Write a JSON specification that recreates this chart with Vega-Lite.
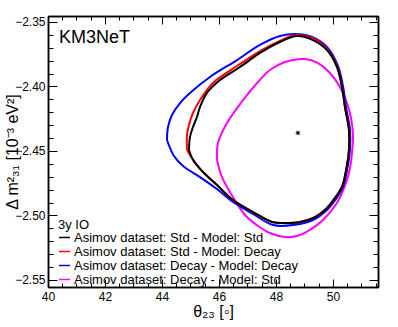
{
  "$schema": "https://vega.github.io/schema/vega-lite/v6.json",
  "width": 330,
  "height": 271,
  "autosize": {"type": "none"},
  "padding": {"left": 48, "top": 16, "right": 20, "bottom": 40},
  "background": "white",
  "config": {
    "font": "Liberation Sans",
    "view": {"stroke": null},
    "axis": {"grid": false, "domainColor": "black", "domainWidth": 1.5, "tickColor": "black", "tickWidth": 1, "labelColor": "black", "titleColor": "black", "labelFont": "Liberation Sans", "titleFont": "Liberation Sans", "labelFontSize": 12, "titleFontSize": 16, "titleFontWeight": "normal", "labelOverlap": false, "labelBound": false, "labelFlush": false}
  },
  "datasets": {
    "contourdata": [
      {"series": "Asimov dataset: Decay - Model: Std", "order": 1, "theta": 45.930, "dm": -2.4570},
      {"series": "Asimov dataset: Decay - Model: Std", "order": 2, "theta": 45.965, "dm": -2.4438},
      {"series": "Asimov dataset: Decay - Model: Std", "order": 3, "theta": 46.281, "dm": -2.4283},
      {"series": "Asimov dataset: Decay - Model: Std", "order": 4, "theta": 46.842, "dm": -2.4105},
      {"series": "Asimov dataset: Decay - Model: Std", "order": 5, "theta": 47.368, "dm": -2.3965},
      {"series": "Asimov dataset: Decay - Model: Std", "order": 6, "theta": 47.789, "dm": -2.3872},
      {"series": "Asimov dataset: Decay - Model: Std", "order": 7, "theta": 48.316, "dm": -2.3810},
      {"series": "Asimov dataset: Decay - Model: Std", "order": 8, "theta": 49.018, "dm": -2.3787},
      {"series": "Asimov dataset: Decay - Model: Std", "order": 9, "theta": 49.474, "dm": -2.3818},
      {"series": "Asimov dataset: Decay - Model: Std", "order": 10, "theta": 49.895, "dm": -2.3895},
      {"series": "Asimov dataset: Decay - Model: Std", "order": 11, "theta": 50.246, "dm": -2.4004},
      {"series": "Asimov dataset: Decay - Model: Std", "order": 12, "theta": 50.491, "dm": -2.4128},
      {"series": "Asimov dataset: Decay - Model: Std", "order": 13, "theta": 50.632, "dm": -2.4244},
      {"series": "Asimov dataset: Decay - Model: Std", "order": 14, "theta": 50.702, "dm": -2.4376},
      {"series": "Asimov dataset: Decay - Model: Std", "order": 15, "theta": 50.667, "dm": -2.4516},
      {"series": "Asimov dataset: Decay - Model: Std", "order": 16, "theta": 50.596, "dm": -2.4632},
      {"series": "Asimov dataset: Decay - Model: Std", "order": 17, "theta": 50.491, "dm": -2.4725},
      {"series": "Asimov dataset: Decay - Model: Std", "order": 18, "theta": 50.316, "dm": -2.4826},
      {"series": "Asimov dataset: Decay - Model: Std", "order": 19, "theta": 50.140, "dm": -2.4903},
      {"series": "Asimov dataset: Decay - Model: Std", "order": 20, "theta": 49.649, "dm": -2.5035},
      {"series": "Asimov dataset: Decay - Model: Std", "order": 21, "theta": 49.193, "dm": -2.5112},
      {"series": "Asimov dataset: Decay - Model: Std", "order": 22, "theta": 48.737, "dm": -2.5159},
      {"series": "Asimov dataset: Decay - Model: Std", "order": 23, "theta": 48.316, "dm": -2.5167},
      {"series": "Asimov dataset: Decay - Model: Std", "order": 24, "theta": 47.789, "dm": -2.5136},
      {"series": "Asimov dataset: Decay - Model: Std", "order": 25, "theta": 47.368, "dm": -2.5081},
      {"series": "Asimov dataset: Decay - Model: Std", "order": 26, "theta": 46.912, "dm": -2.4996},
      {"series": "Asimov dataset: Decay - Model: Std", "order": 27, "theta": 46.491, "dm": -2.4857},
      {"series": "Asimov dataset: Decay - Model: Std", "order": 28, "theta": 46.105, "dm": -2.4702},
      {"series": "Asimov dataset: Decay - Model: Std", "order": 29, "theta": 45.930, "dm": -2.4570},

      {"series": "Asimov dataset: Decay - Model: Decay", "order": 1, "theta": 44.175, "dm": -2.4415},
      {"series": "Asimov dataset: Decay - Model: Decay", "order": 2, "theta": 44.211, "dm": -2.4314},
      {"series": "Asimov dataset: Decay - Model: Decay", "order": 3, "theta": 44.351, "dm": -2.4221},
      {"series": "Asimov dataset: Decay - Model: Decay", "order": 4, "theta": 44.632, "dm": -2.4128},
      {"series": "Asimov dataset: Decay - Model: Decay", "order": 5, "theta": 44.982, "dm": -2.4050},
      {"series": "Asimov dataset: Decay - Model: Decay", "order": 6, "theta": 45.684, "dm": -2.3926},
      {"series": "Asimov dataset: Decay - Model: Decay", "order": 7, "theta": 46.632, "dm": -2.3795},
      {"series": "Asimov dataset: Decay - Model: Decay", "order": 8, "theta": 47.439, "dm": -2.3678},
      {"series": "Asimov dataset: Decay - Model: Decay", "order": 9, "theta": 48.140, "dm": -2.3609},
      {"series": "Asimov dataset: Decay - Model: Decay", "order": 10, "theta": 48.667, "dm": -2.3593},
      {"series": "Asimov dataset: Decay - Model: Decay", "order": 11, "theta": 49.263, "dm": -2.3616},
      {"series": "Asimov dataset: Decay - Model: Decay", "order": 12, "theta": 49.825, "dm": -2.3702},
      {"series": "Asimov dataset: Decay - Model: Decay", "order": 13, "theta": 50.175, "dm": -2.3841},
      {"series": "Asimov dataset: Decay - Model: Decay", "order": 14, "theta": 50.351, "dm": -2.3996},
      {"series": "Asimov dataset: Decay - Model: Decay", "order": 15, "theta": 50.456, "dm": -2.4159},
      {"series": "Asimov dataset: Decay - Model: Decay", "order": 16, "theta": 50.596, "dm": -2.4337},
      {"series": "Asimov dataset: Decay - Model: Decay", "order": 17, "theta": 50.596, "dm": -2.4492},
      {"series": "Asimov dataset: Decay - Model: Decay", "order": 18, "theta": 50.526, "dm": -2.4609},
      {"series": "Asimov dataset: Decay - Model: Decay", "order": 19, "theta": 50.351, "dm": -2.4779},
      {"series": "Asimov dataset: Decay - Model: Decay", "order": 20, "theta": 50.105, "dm": -2.4872},
      {"series": "Asimov dataset: Decay - Model: Decay", "order": 21, "theta": 49.789, "dm": -2.4957},
      {"series": "Asimov dataset: Decay - Model: Decay", "order": 22, "theta": 49.298, "dm": -2.5035},
      {"series": "Asimov dataset: Decay - Model: Decay", "order": 23, "theta": 48.596, "dm": -2.5074},
      {"series": "Asimov dataset: Decay - Model: Decay", "order": 24, "theta": 47.895, "dm": -2.5074},
      {"series": "Asimov dataset: Decay - Model: Decay", "order": 25, "theta": 47.193, "dm": -2.4988},
      {"series": "Asimov dataset: Decay - Model: Decay", "order": 26, "theta": 46.491, "dm": -2.4895},
      {"series": "Asimov dataset: Decay - Model: Decay", "order": 27, "theta": 45.930, "dm": -2.4795},
      {"series": "Asimov dataset: Decay - Model: Decay", "order": 28, "theta": 45.333, "dm": -2.4702},
      {"series": "Asimov dataset: Decay - Model: Decay", "order": 29, "theta": 44.737, "dm": -2.4616},
      {"series": "Asimov dataset: Decay - Model: Decay", "order": 30, "theta": 44.421, "dm": -2.4539},
      {"series": "Asimov dataset: Decay - Model: Decay", "order": 31, "theta": 44.175, "dm": -2.4415},

      {"series": "Asimov dataset: Std - Model: Decay", "order": 1, "theta": 44.877, "dm": -2.4492},
      {"series": "Asimov dataset: Std - Model: Decay", "order": 2, "theta": 44.877, "dm": -2.4376},
      {"series": "Asimov dataset: Std - Model: Decay", "order": 3, "theta": 44.947, "dm": -2.4298},
      {"series": "Asimov dataset: Std - Model: Decay", "order": 4, "theta": 45.088, "dm": -2.4205},
      {"series": "Asimov dataset: Std - Model: Decay", "order": 5, "theta": 45.333, "dm": -2.4105},
      {"series": "Asimov dataset: Std - Model: Decay", "order": 6, "theta": 45.789, "dm": -2.3973},
      {"series": "Asimov dataset: Std - Model: Decay", "order": 7, "theta": 46.632, "dm": -2.3841},
      {"series": "Asimov dataset: Std - Model: Decay", "order": 8, "theta": 47.439, "dm": -2.3725},
      {"series": "Asimov dataset: Std - Model: Decay", "order": 9, "theta": 48.140, "dm": -2.3647},
      {"series": "Asimov dataset: Std - Model: Decay", "order": 10, "theta": 48.667, "dm": -2.3601},
      {"series": "Asimov dataset: Std - Model: Decay", "order": 11, "theta": 49.263, "dm": -2.3624},
      {"series": "Asimov dataset: Std - Model: Decay", "order": 12, "theta": 49.789, "dm": -2.3709},
      {"series": "Asimov dataset: Std - Model: Decay", "order": 13, "theta": 50.140, "dm": -2.3841},
      {"series": "Asimov dataset: Std - Model: Decay", "order": 14, "theta": 50.316, "dm": -2.3996},
      {"series": "Asimov dataset: Std - Model: Decay", "order": 15, "theta": 50.421, "dm": -2.4159},
      {"series": "Asimov dataset: Std - Model: Decay", "order": 16, "theta": 50.561, "dm": -2.4337},
      {"series": "Asimov dataset: Std - Model: Decay", "order": 17, "theta": 50.561, "dm": -2.4492},
      {"series": "Asimov dataset: Std - Model: Decay", "order": 18, "theta": 50.491, "dm": -2.4609},
      {"series": "Asimov dataset: Std - Model: Decay", "order": 19, "theta": 50.316, "dm": -2.4779},
      {"series": "Asimov dataset: Std - Model: Decay", "order": 20, "theta": 50.070, "dm": -2.4864},
      {"series": "Asimov dataset: Std - Model: Decay", "order": 21, "theta": 49.754, "dm": -2.4950},
      {"series": "Asimov dataset: Std - Model: Decay", "order": 22, "theta": 49.368, "dm": -2.5012},
      {"series": "Asimov dataset: Std - Model: Decay", "order": 23, "theta": 48.842, "dm": -2.5050},
      {"series": "Asimov dataset: Std - Model: Decay", "order": 24, "theta": 48.316, "dm": -2.5058},
      {"series": "Asimov dataset: Std - Model: Decay", "order": 25, "theta": 47.860, "dm": -2.5050},
      {"series": "Asimov dataset: Std - Model: Decay", "order": 26, "theta": 47.193, "dm": -2.4973},
      {"series": "Asimov dataset: Std - Model: Decay", "order": 27, "theta": 46.491, "dm": -2.4880},
      {"series": "Asimov dataset: Std - Model: Decay", "order": 28, "theta": 45.930, "dm": -2.4764},
      {"series": "Asimov dataset: Std - Model: Decay", "order": 29, "theta": 45.439, "dm": -2.4663},
      {"series": "Asimov dataset: Std - Model: Decay", "order": 30, "theta": 45.053, "dm": -2.4554},
      {"series": "Asimov dataset: Std - Model: Decay", "order": 31, "theta": 44.877, "dm": -2.4492},

      {"series": "Asimov dataset: Std - Model: Std", "order": 1, "theta": 44.947, "dm": -2.4492},
      {"series": "Asimov dataset: Std - Model: Std", "order": 2, "theta": 44.982, "dm": -2.4391},
      {"series": "Asimov dataset: Std - Model: Std", "order": 3, "theta": 45.088, "dm": -2.4314},
      {"series": "Asimov dataset: Std - Model: Std", "order": 4, "theta": 45.228, "dm": -2.4236},
      {"series": "Asimov dataset: Std - Model: Std", "order": 5, "theta": 45.333, "dm": -2.4159},
      {"series": "Asimov dataset: Std - Model: Std", "order": 6, "theta": 45.579, "dm": -2.4050},
      {"series": "Asimov dataset: Std - Model: Std", "order": 7, "theta": 46.035, "dm": -2.3950},
      {"series": "Asimov dataset: Std - Model: Std", "order": 8, "theta": 46.737, "dm": -2.3849},
      {"series": "Asimov dataset: Std - Model: Std", "order": 9, "theta": 47.439, "dm": -2.3740},
      {"series": "Asimov dataset: Std - Model: Std", "order": 10, "theta": 48.140, "dm": -2.3655},
      {"series": "Asimov dataset: Std - Model: Std", "order": 11, "theta": 48.737, "dm": -2.3609},
      {"series": "Asimov dataset: Std - Model: Std", "order": 12, "theta": 49.298, "dm": -2.3640},
      {"series": "Asimov dataset: Std - Model: Std", "order": 13, "theta": 49.789, "dm": -2.3717},
      {"series": "Asimov dataset: Std - Model: Std", "order": 14, "theta": 50.140, "dm": -2.3849},
      {"series": "Asimov dataset: Std - Model: Std", "order": 15, "theta": 50.316, "dm": -2.4004},
      {"series": "Asimov dataset: Std - Model: Std", "order": 16, "theta": 50.421, "dm": -2.4159},
      {"series": "Asimov dataset: Std - Model: Std", "order": 17, "theta": 50.561, "dm": -2.4337},
      {"series": "Asimov dataset: Std - Model: Std", "order": 18, "theta": 50.561, "dm": -2.4492},
      {"series": "Asimov dataset: Std - Model: Std", "order": 19, "theta": 50.491, "dm": -2.4609},
      {"series": "Asimov dataset: Std - Model: Std", "order": 20, "theta": 50.316, "dm": -2.4779},
      {"series": "Asimov dataset: Std - Model: Std", "order": 21, "theta": 50.070, "dm": -2.4864},
      {"series": "Asimov dataset: Std - Model: Std", "order": 22, "theta": 49.754, "dm": -2.4950},
      {"series": "Asimov dataset: Std - Model: Std", "order": 23, "theta": 49.368, "dm": -2.5012},
      {"series": "Asimov dataset: Std - Model: Std", "order": 24, "theta": 48.842, "dm": -2.5050},
      {"series": "Asimov dataset: Std - Model: Std", "order": 25, "theta": 48.316, "dm": -2.5058},
      {"series": "Asimov dataset: Std - Model: Std", "order": 26, "theta": 47.860, "dm": -2.5050},
      {"series": "Asimov dataset: Std - Model: Std", "order": 27, "theta": 47.193, "dm": -2.4973},
      {"series": "Asimov dataset: Std - Model: Std", "order": 28, "theta": 46.491, "dm": -2.4880},
      {"series": "Asimov dataset: Std - Model: Std", "order": 29, "theta": 45.930, "dm": -2.4764},
      {"series": "Asimov dataset: Std - Model: Std", "order": 30, "theta": 45.439, "dm": -2.4663},
      {"series": "Asimov dataset: Std - Model: Std", "order": 31, "theta": 45.088, "dm": -2.4570},
      {"series": "Asimov dataset: Std - Model: Std", "order": 32, "theta": 44.947, "dm": -2.4492}
    ],
    "bestfitdata": [{"theta": 48.77, "dm": -2.436}],
    "annotdata": [{"label": "KM3NeT", "theta": 40.386, "dm": -2.3665}]
  },
  "resolve": {"axis": {"x": "independent", "y": "independent"}},
  "layer": [
    {
      "data": {"name": "contourdata"},
      "mark": {"type": "line", "strokeWidth": 2, "interpolate": "catmull-rom"},
      "encoding": {
        "x": {
          "field": "theta", "type": "quantitative",
          "scale": {"domain": [40, 51.58], "nice": false, "zero": false},
          "axis": {
            "orient": "bottom",
            "title": "θ₂₃ [◦]",
            "values": [40, 42, 44, 46, 48, 50],
            "format": "d",
            "tickSize": -8,
            "labelPadding": 12,
            "titlePadding": 1
          }
        },
        "y": {
          "field": "dm", "type": "quantitative",
          "scale": {"domain": [-2.55543, -2.34535], "nice": false, "zero": false},
          "axis": {
            "orient": "left",
            "title": "Δ m²₃₁ [10⁻³ eV²]",
            "values": [-2.55, -2.5, -2.45, -2.4, -2.35],
            "format": ".2f",
            "tickSize": -9,
            "labelPadding": 12,
            "titlePadding": -6
          }
        },
        "color": {
          "field": "series", "type": "nominal",
          "scale": {
            "domain": ["Asimov dataset: Std - Model: Std", "Asimov dataset: Std - Model: Decay", "Asimov dataset: Decay - Model: Decay", "Asimov dataset: Decay - Model: Std"],
            "range": ["#000000", "#ff0000", "#0000ff", "#ff00ff"]
          },
          "legend": {
            "orient": "none", "legendX": 10, "legendY": 203,
            "title": "3y IO", "titleFontSize": 13, "titleFontWeight": "normal", "titleColor": "black", "titlePadding": -1,
            "labelFontSize": 13, "labelColor": "black", "labelLimit": 400, "labelOffset": 3,
            "symbolType": "stroke", "symbolStrokeWidth": 1.5, "symbolSize": 121,
            "rowPadding": 0, "padding": 0
          }
        },
        "order": {"field": "order", "type": "quantitative"}
      }
    },
    {
      "data": {"name": "bestfitdata"},
      "mark": {"type": "point", "shape": "M-1,0L1,0M0,-1L0,1M-0.7,-0.7L0.7,0.7M-0.7,0.7L0.7,-0.7", "filled": false, "color": "black", "strokeWidth": 1, "size": 20, "opacity": 1},
      "encoding": {
        "x": {
          "field": "theta", "type": "quantitative",
          "scale": {"domain": [40, 51.58], "nice": false, "zero": false},
          "axis": {
            "orient": "bottom", "title": null, "labels": false,
            "values": [40.5, 41, 41.5, 42.5, 43, 43.5, 44.5, 45, 45.5, 46.5, 47, 47.5, 48.5, 49, 49.5, 50.5, 51, 51.5],
            "tickSize": -4
          }
        },
        "y": {
          "field": "dm", "type": "quantitative",
          "scale": {"domain": [-2.55543, -2.34535], "nice": false, "zero": false},
          "axis": {
            "orient": "left", "title": null, "labels": false,
            "values": [-2.54, -2.53, -2.52, -2.51, -2.49, -2.48, -2.47, -2.46, -2.44, -2.43, -2.42, -2.41, -2.39, -2.38, -2.37, -2.36],
            "tickSize": -5
          }
        }
      }
    },
    {
      "data": {"name": "annotdata"},
      "mark": {"type": "text", "align": "left", "baseline": "alphabetic", "fontSize": 18, "font": "Liberation Sans", "color": "black"},
      "encoding": {
        "x": {
          "field": "theta", "type": "quantitative",
          "scale": {"domain": [40, 51.58], "nice": false, "zero": false},
          "axis": {"orient": "top", "title": null, "labels": false, "values": [40, 42, 44, 46, 48, 50], "tickSize": -8}
        },
        "y": {
          "field": "dm", "type": "quantitative",
          "scale": {"domain": [-2.55543, -2.34535], "nice": false, "zero": false},
          "axis": {"orient": "right", "title": null, "labels": false, "values": [-2.55, -2.5, -2.45, -2.4, -2.35], "tickSize": -9}
        },
        "text": {"field": "label"}
      }
    },
    {
      "data": {"name": "bestfitdata"},
      "mark": {"type": "point", "opacity": 0},
      "encoding": {
        "x": {
          "field": "theta", "type": "quantitative",
          "scale": {"domain": [40, 51.58], "nice": false, "zero": false},
          "axis": {
            "orient": "top", "title": null, "labels": false,
            "values": [40.5, 41, 41.5, 42.5, 43, 43.5, 44.5, 45, 45.5, 46.5, 47, 47.5, 48.5, 49, 49.5, 50.5, 51, 51.5],
            "tickSize": -4
          }
        },
        "y": {
          "field": "dm", "type": "quantitative",
          "scale": {"domain": [-2.55543, -2.34535], "nice": false, "zero": false},
          "axis": {
            "orient": "right", "title": null, "labels": false,
            "values": [-2.54, -2.53, -2.52, -2.51, -2.49, -2.48, -2.47, -2.46, -2.44, -2.43, -2.42, -2.41, -2.39, -2.38, -2.37, -2.36],
            "tickSize": -5
          }
        }
      }
    }
  ]
}
